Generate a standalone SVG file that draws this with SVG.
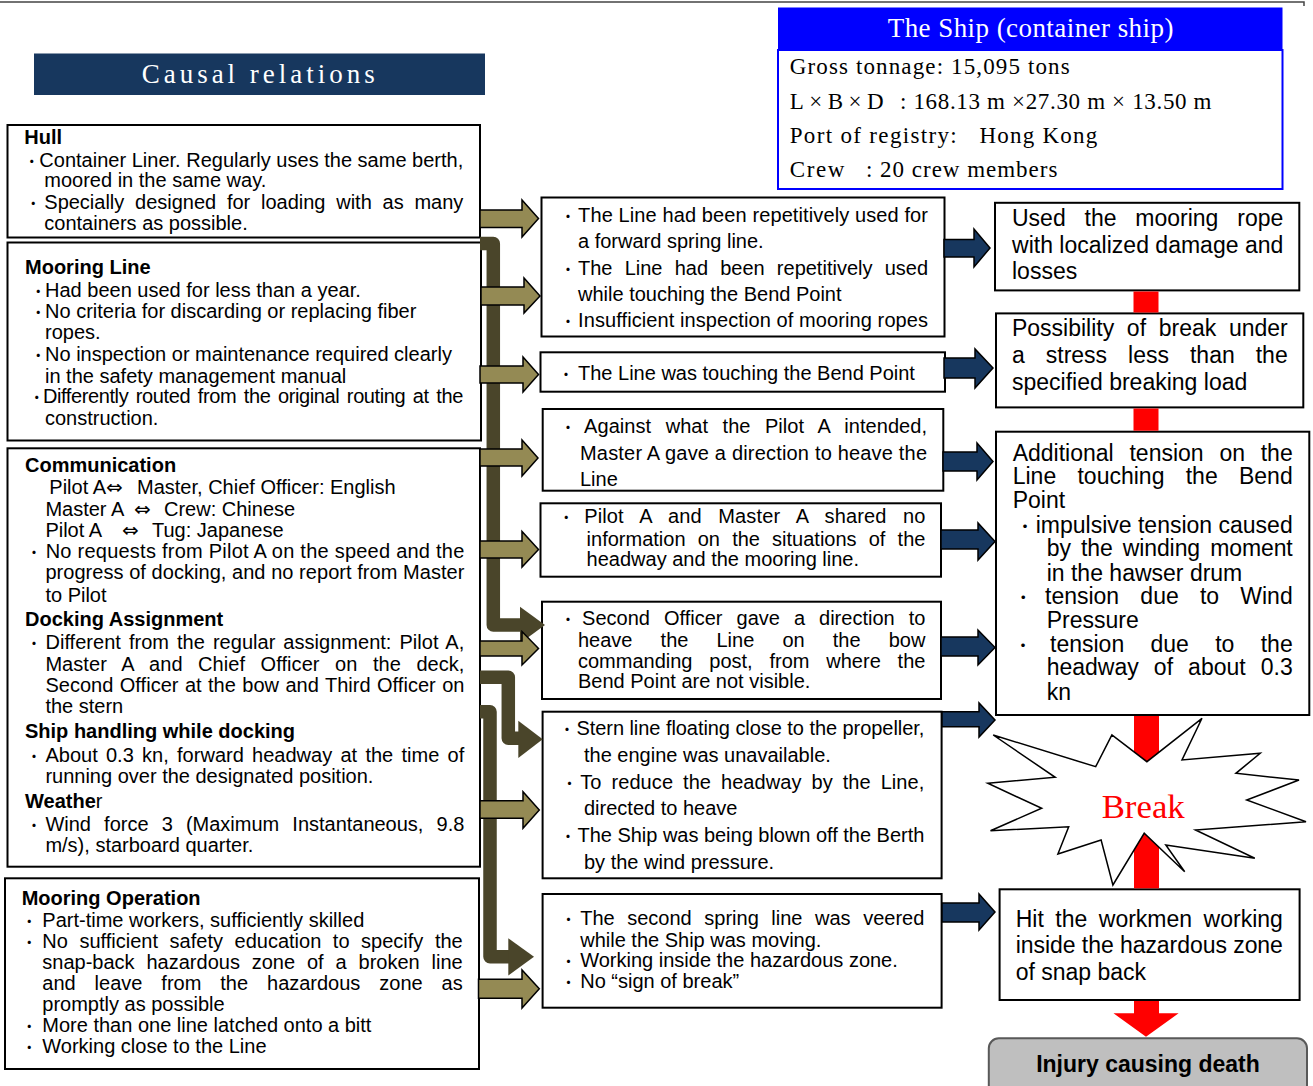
<svg xmlns="http://www.w3.org/2000/svg" width="1313" height="1086" viewBox="0 0 1313 1086">
<defs><style>
.t{font-family:"Liberation Sans",Arial,sans-serif;font-size:20px;fill:#000}
.h{font-weight:bold}
.n{font-weight:normal}
.rt{font-size:23px}
.bu{font-family:"Noto Sans CJK JP",sans-serif;font-size:15px}
.bu2{font-family:"Noto Sans CJK JP",sans-serif;font-size:17px}
.ar{font-family:"DejaVu Sans",sans-serif}
.sr{font-family:"Liberation Serif","Times New Roman",serif;fill:#000}
.box{fill:#fff;stroke:#000;stroke-width:2}
.ol{fill:#948A54;stroke:#000;stroke-width:1.5}
.nv{fill:#17375E;stroke:#000;stroke-width:1.5}
.br{fill:none;stroke:#4A452A;stroke-width:13.5;stroke-linejoin:round}
.brh{fill:#4A452A}
.red{fill:#FF0000}
</style></defs>
<rect width="1313" height="1086" fill="#fff"/>
<polyline points="0,2 1304,2 1304,6" fill="none" stroke="#444" stroke-width="1.5"/>

<g id="causal-relations-title">
<rect x="34" y="53.5" width="451" height="41.5" fill="#17375E"/>
<text class="sr" x="141.7" y="83.3" style="font-size:27px;fill:#fff" textLength="233" lengthAdjust="spacing">Causal relations</text>
</g>

<g id="ship-info">
<rect x="778" y="7.5" width="504.5" height="42.5" fill="#0000FF"/>
<rect x="778" y="50" width="504.5" height="139" fill="#fff" stroke="#0000FF" stroke-width="2"/>
<text class="sr" x="887.7" y="36.7" style="font-size:27px;fill:#fff" textLength="285.7" lengthAdjust="spacing">The Ship (container ship)</text>
<text class="sr" x="789.7" y="74" style="font-size:23px" textLength="280" lengthAdjust="spacing">Gross tonnage: 15,095 tons</text>
<text class="sr" x="789.7" y="109" style="font-size:23px" textLength="94" lengthAdjust="spacing">L×B×D</text>
<text class="sr" x="900" y="109" style="font-size:23px" textLength="311.5" lengthAdjust="spacing">: 168.13 m ×27.30 m × 13.50 m</text>
<text class="sr" x="789.7" y="143.3" style="font-size:23px" textLength="167" lengthAdjust="spacing">Port of registry:</text>
<text class="sr" x="979.5" y="143.3" style="font-size:23px" textLength="117.7" lengthAdjust="spacing">Hong Kong</text>
<text class="sr" x="789.7" y="176.7" style="font-size:23px" textLength="54.7" lengthAdjust="spacing">Crew</text>
<text class="sr" x="866" y="176.7" style="font-size:23px" textLength="191.4" lengthAdjust="spacing">: 20 crew members</text>
</g>

<g id="hull">
<rect class="box" x="7.5" y="125" width="472.5" height="112.5"/>
<text class="t h" x="24.3" y="144.3">Hull</text>
<text class="t" x="24.2" y="166.7" textLength="439.1" lengthAdjust="spacing"><tspan class="bu">・</tspan><tspan dx="0.1">Container Liner. Regularly uses the same berth,</tspan></text>
<text class="t" x="44.3" y="186.7">moored in the same way.</text>
<text class="t" x="25.8" y="209.3" textLength="437.5" lengthAdjust="spacing" style="word-spacing:5.2px"><tspan class="bu">・</tspan><tspan dx="3.5">Specially designed for loading with as many</tspan></text>
<text class="t" x="44.3" y="230">containers as possible.</text>
</g>

<g id="mooring-line">
<rect class="box" x="7.5" y="242.5" width="473.5" height="198"/>
<text class="t h" x="25" y="274.3">Mooring Line</text>
<text class="t" x="30.8" y="296.7"><tspan class="bu">・</tspan><tspan dx="-0.8">Had been used for less than a year.</tspan></text>
<text class="t" x="30.8" y="318.3"><tspan class="bu">・</tspan><tspan dx="-0.8">No criteria for discarding or replacing fiber</tspan></text>
<text class="t" x="45" y="339.3">ropes.</text>
<text class="t" x="30.8" y="361"><tspan class="bu">・</tspan><tspan dx="-0.8">No inspection or maintenance required clearly</tspan></text>
<text class="t" x="45" y="382.7">in the safety management manual</text>
<text class="t" x="29.2" y="403.3" textLength="434.1" lengthAdjust="spacing" style="word-spacing:2.4px"><tspan class="bu">・</tspan><tspan dx="-0.9">Differently routed from the original routing at the</tspan></text>
<text class="t" x="45" y="425">construction.</text>
</g>

<g id="communication">
<rect class="box" x="7.5" y="448.3" width="472.5" height="418.4"/>
<text class="t h" x="25" y="471.7">Communication</text>
<text class="t" y="494.3"><tspan x="49.3">Pilot A</tspan><tspan class="ar" x="106">⇔</tspan><tspan x="137">Master, Chief Officer: English</tspan></text>
<text class="t" y="516"><tspan x="45.4">Master A</tspan><tspan class="ar" x="134">⇔</tspan><tspan x="164">Crew: Chinese</tspan></text>
<text class="t" y="537.3"><tspan x="45.4">Pilot A</tspan><tspan class="ar" x="122">⇔</tspan><tspan x="152">Tug: Japanese</tspan></text>
<text class="t" x="26.5" y="558.3" textLength="437.8" lengthAdjust="spacing"><tspan class="bu">・</tspan><tspan dx="3.9">No requests from Pilot A on the speed and the</tspan></text>
<text class="t" x="45.4" y="579.3" textLength="419" lengthAdjust="spacing">progress of docking, and no report from Master</text>
<text class="t" x="45.4" y="601.7">to Pilot</text>
<text class="t h" x="25" y="626">Docking Assignment</text>
<text class="t" x="26.5" y="649.3" textLength="437.8" lengthAdjust="spacing" style="word-spacing:2.4px"><tspan class="bu">・</tspan><tspan dx="3.9">Different from the regular assignment: Pilot A,</tspan></text>
<text class="t" x="45.4" y="670.7" textLength="419" lengthAdjust="spacing" style="word-spacing:9.9px">Master A and Chief Officer on the deck,</text>
<text class="t" x="45.4" y="691.7" textLength="419" lengthAdjust="spacing" style="word-spacing:0.8px">Second Officer at the bow and Third Officer on</text>
<text class="t" x="45.4" y="713.3">the stern</text>
<text class="t h" x="25" y="738.3">Ship handling while docking</text>
<text class="t" x="26.5" y="761.7" textLength="437.8" lengthAdjust="spacing" style="word-spacing:2.7px"><tspan class="bu">・</tspan><tspan dx="3.9">About 0.3 kn, forward headway at the time of</tspan></text>
<text class="t" x="45.4" y="782.7">running over the designated position.</text>
<text class="t h" x="25" y="807.7">Weathe<tspan class="n">r</tspan></text>
<text class="t" x="26.5" y="830.7" textLength="437.8" lengthAdjust="spacing" style="word-spacing:7.6px"><tspan class="bu">・</tspan><tspan dx="3.9">Wind force 3 (Maximum Instantaneous, 9.8</tspan></text>
<text class="t" x="45.4" y="852.3">m/s), starboard quarter.</text>
</g>

<g id="mooring-operation">
<rect class="box" x="5" y="878.3" width="474" height="190.7"/>
<text class="t h" x="21.7" y="905">Mooring Operation</text>
<text class="t" x="21.8" y="926.7"><tspan class="bu">・</tspan><tspan dx="5.5">Part-time workers, sufficiently skilled</tspan></text>
<text class="t" x="21.8" y="948.3" textLength="440.9" lengthAdjust="spacing" style="word-spacing:6px"><tspan class="bu">・</tspan><tspan dx="5.5">No sufficient safety education to specify the</tspan></text>
<text class="t" x="42.3" y="969.3" textLength="420.4" lengthAdjust="spacing" style="word-spacing:6.3px">snap-back hazardous zone of a broken line</text>
<text class="t" x="42.3" y="990" textLength="420.4" lengthAdjust="spacing" style="word-spacing:13.4px">and leave from the hazardous zone as</text>
<text class="t" x="42.3" y="1010.7">promptly as possible</text>
<text class="t" x="21.8" y="1031.7"><tspan class="bu">・</tspan><tspan dx="5.5">More than one line latched onto a bitt</tspan></text>
<text class="t" x="21.8" y="1053.3"><tspan class="bu">・</tspan><tspan dx="5.5">Working close to the Line</tspan></text>
</g>

<g id="repeated-use">
<rect class="box" x="541.5" y="197.5" width="403" height="139"/>
<text class="t" x="560.5" y="222.3" textLength="367.5" lengthAdjust="spacing"><tspan class="bu">・</tspan><tspan dx="2.5">The Line had been repetitively used for</tspan></text>
<text class="t" x="578" y="248.3">a forward spring line.</text>
<text class="t" x="560.5" y="275" textLength="367.5" lengthAdjust="spacing" style="word-spacing:6.6px"><tspan class="bu">・</tspan><tspan dx="2.5">The Line had been repetitively used</tspan></text>
<text class="t" x="578" y="301">while touching the Bend Point</text>
<text class="t" x="560.5" y="326.7" textLength="367.5" lengthAdjust="spacing"><tspan class="bu">・</tspan><tspan dx="2.5">Insufficient inspection of mooring ropes</tspan></text>
</g>

<g id="touching-bend">
<rect class="box" x="540.5" y="352.3" width="404.5" height="39.4"/>
<text class="t" x="558.5" y="380"><tspan class="bu">・</tspan><tspan dx="4.5">The Line was touching the Bend Point</tspan></text>
</g>

<g id="master-direction">
<rect class="box" x="542.7" y="409" width="400.6" height="81.7"/>
<text class="t" x="560.5" y="432.7" textLength="366.5" lengthAdjust="spacing" style="word-spacing:8.8px"><tspan class="bu">・</tspan><tspan dx="8.5">Against what the Pilot A intended,</tspan></text>
<text class="t" x="580" y="460" textLength="347" lengthAdjust="spacing">Master A gave a direction to heave the</text>
<text class="t" x="580" y="486">Line</text>
</g>

<g id="no-information">
<rect class="box" x="540.5" y="503.3" width="400.5" height="73.4"/>
<text class="t" x="558.8" y="523.3" textLength="366.6" lengthAdjust="spacing" style="word-spacing:10.8px"><tspan class="bu">・</tspan><tspan dx="10.2">Pilot A and Master A shared no</tspan></text>
<text class="t" x="586.6" y="545.7" textLength="338.8" lengthAdjust="spacing" style="word-spacing:6.6px">information on the situations of the</text>
<text class="t" x="586.6" y="565.7">headway and the mooring line.</text>
</g>

<g id="second-officer">
<rect class="box" x="542" y="601.7" width="399" height="97.3"/>
<text class="t" x="560.5" y="625" textLength="364.9" lengthAdjust="spacing" style="word-spacing:8.4px"><tspan class="bu">・</tspan><tspan dx="6.5">Second Officer gave a direction to</tspan></text>
<text class="t" x="578" y="647.3" textLength="347.4" lengthAdjust="spacing" style="word-spacing:22.6px">heave the Line on the bow</text>
<text class="t" x="578" y="668.3" textLength="347.4" lengthAdjust="spacing" style="word-spacing:11.3px">commanding post, from where the</text>
<text class="t" x="578" y="688.3">Bend Point are not visible.</text>
</g>

<g id="stern-line">
<rect class="box" x="542.6" y="711.7" width="399" height="166.6"/>
<text class="t" x="559.5" y="735" textLength="364.8" lengthAdjust="spacing"><tspan class="bu">・</tspan><tspan dx="2">Stern line floating close to the propeller,</tspan></text>
<text class="t" x="584" y="761.7">the engine was unavailable.</text>
<text class="t" x="562" y="789" textLength="362.3" lengthAdjust="spacing" style="word-spacing:4.3px"><tspan class="bu">・</tspan><tspan dx="3.2">To reduce the headway by the Line,</tspan></text>
<text class="t" x="584" y="815">directed to heave</text>
<text class="t" x="560.5" y="842.3" textLength="363.8" lengthAdjust="spacing"><tspan class="bu">・</tspan><tspan dx="2">The Ship was being blown off the Berth</tspan></text>
<text class="t" x="584" y="869">by the wind pressure.</text>
</g>

<g id="second-spring">
<rect class="box" x="542.6" y="894" width="399" height="113.7"/>
<text class="t" x="560.9" y="925" textLength="363.4" lengthAdjust="spacing" style="word-spacing:7px"><tspan class="bu">・</tspan><tspan dx="4.3">The second spring line was veered</tspan></text>
<text class="t" x="580.2" y="946.7">while the Ship was moving.</text>
<text class="t" x="560.9" y="967.3"><tspan class="bu">・</tspan><tspan dx="4.3">Working inside the hazardous zone.</tspan></text>
<text class="t" x="560.9" y="988.3"><tspan class="bu">・</tspan><tspan dx="4.3">No “sign of break”</tspan></text>
</g>

<g id="damaged-rope">
<rect class="box" x="995" y="202.8" width="304.3" height="87.6"/>
<text class="t rt" x="1012" y="225.5" textLength="271.3" lengthAdjust="spacing" style="word-spacing:12.5px">Used the mooring rope</text>
<text class="t rt" x="1012" y="252.5" textLength="271.3" lengthAdjust="spacing">with localized damage and</text>
<text class="t rt" x="1012" y="278.6">losses</text>
</g>

<g id="break-possibility">
<rect class="box" x="996" y="313.4" width="307.3" height="94"/>
<text class="t rt" x="1012" y="336" textLength="275.7" lengthAdjust="spacing" style="word-spacing:6.3px">Possibility of break under</text>
<text class="t rt" x="1012" y="363" textLength="275.7" lengthAdjust="spacing" style="word-spacing:14.6px">a stress less than the</text>
<text class="t rt" x="1012" y="390">specified breaking load</text>
</g>

<g id="additional-tension">
<rect class="box" x="996" y="431.7" width="313.3" height="283.3"/>
<text class="t rt" x="1012.7" y="460.5" textLength="280" lengthAdjust="spacing" style="word-spacing:9.4px">Additional tension on the</text>
<text class="t rt" x="1012.7" y="484.1" textLength="280" lengthAdjust="spacing" style="word-spacing:14.9px">Line touching the Bend</text>
<text class="t rt" x="1012.7" y="507.8">Point</text>
<text class="t rt" x="1016.5" y="532.5" textLength="276.2" lengthAdjust="spacing"><tspan class="bu2">・</tspan><tspan dx="2.2">impulsive tension caused</tspan></text>
<text class="t rt" x="1046.7" y="556.1" textLength="246" lengthAdjust="spacing" style="word-spacing:3.9px">by the winding moment</text>
<text class="t rt" x="1046.7" y="580.5">in the hawser drum</text>
<text class="t rt" x="1014.8" y="604.1" textLength="277.9" lengthAdjust="spacing" style="word-spacing:14.8px"><tspan class="bu2">・</tspan><tspan dx="13.2">tension due to Wind</tspan></text>
<text class="t rt" x="1046.7" y="627.8">Pressure</text>
<text class="t rt" x="1014.5" y="651.5" textLength="278.2" lengthAdjust="spacing" style="word-spacing:19.9px"><tspan class="bu2">・</tspan><tspan dx="18.5">tension due to the</tspan></text>
<text class="t rt" x="1046.7" y="675.3" textLength="246" lengthAdjust="spacing" style="word-spacing:8.7px">headway of about 0.3</text>
<text class="t rt" x="1046.7" y="699.5">kn</text>
</g>

<g id="hit-workmen">
<rect class="box" x="999.6" y="889.3" width="300" height="110.7"/>
<text class="t rt" x="1015.7" y="926.7" textLength="267.2" lengthAdjust="spacing" style="word-spacing:5.1px">Hit the workmen working</text>
<text class="t rt" x="1015.7" y="953.3" textLength="267.2" lengthAdjust="spacing">inside the hazardous zone</text>
<text class="t rt" x="1015.7" y="980">of snap back</text>
</g>

<g id="injury">
<rect x="988.8" y="1038.3" width="318.2" height="60" rx="10" fill="#BFBFBF" stroke="#595959" stroke-width="2"/>
<text class="t h" x="1148" y="1071.7" style="font-size:23px" text-anchor="middle">Injury causing death</text>
</g>

<g id="connectors">
<path class="br" d="M480,243.5 H493.3 V625 H521"/>
<polygon class="brh" points="520,606.7 545,625 520,643.3"/>
<path class="br" d="M480,677.3 H508.3 V738.3 H519"/>
<polygon class="brh" points="518.3,720.7 542.7,739.3 518.3,758"/>
<path class="br" d="M480,711.7 H490 V956.7 H509"/>
<polygon class="brh" points="508.3,938.3 534,956.7 508.3,975.5"/>

<polygon class="ol" points="480,210 522,210 522,200 538.5,218.5 522,237 522,227.5 480,227.5"/>
<polygon class="ol" points="481,287 524,287 524,278 540,296 524,313 524,305 481,305"/>
<polygon class="ol" points="480,366 523,366 523,357 538.5,374.5 523,392 523,383 480,383"/>
<polygon class="ol" points="480,449 522,449 522,440 538,458 522,476 522,466 480,466"/>
<polygon class="ol" points="480,541 522,541 522,531.5 538.5,549.5 522,567 522,558 480,558"/>
<polygon class="ol" points="480,641 522,641 522,631.5 538.5,648.5 522,665 522,656 480,656"/>
<polygon class="ol" points="480,800.7 523,800.7 523,791.7 539.3,810 523,828.3 523,818.3 480,818.3"/>
<polygon class="ol" points="478.5,979.3 522,979.3 522,970 539.3,988.8 522,1008 522,998.3 478.5,998.3"/>

<polygon class="nv" points="944,239.5 974,239.5 974,229 990,248 974,267 974,257 944,257"/>
<polygon class="nv" points="944,358 975,358 975,349 993,368 975,388 975,378 944,378"/>
<polygon class="nv" points="943,452 977,452 977,443 993,461.5 977,480 977,471 943,471"/>
<polygon class="nv" points="941,530 978,530 978,523 995,541.5 978,560 978,549 941,549"/>
<polygon class="nv" points="941,637 978,637 978,630 995,647.5 978,665 978,656 941,656"/>
<polygon class="nv" points="942,711.7 979,711.7 979,703 995,720 979,737 979,726.7 942,726.7"/>
<polygon class="nv" points="942,903 979,903 979,894 995,912 979,930 979,922 942,922"/>

<rect class="red" x="1133.5" y="291.5" width="25" height="21"/>
<rect class="red" x="1133.5" y="408.5" width="25" height="22.2"/>
<rect class="red" x="1134" y="716" width="25" height="172.3"/>
<polygon class="red" points="1134,1001 1159,1001 1159,1013.3 1178.6,1013.3 1146,1036.7 1113.5,1013.3 1134,1013.3"/>
</g>

<g id="break">
<polygon points="993.2,735 1095.7,766.7 1111.9,735 1146.9,761.7 1202,718.3 1182,760 1260.2,753.3 1235.9,773.3 1299,780 1246.7,800 1306,821.7 1195.5,830 1254.8,858.3 1165.8,845 1184.7,871.7 1144.2,833.3 1112.9,885 1101.1,840 1057.9,854 1068.7,826.7 990.5,830.7 1041.7,808.3 987.8,783.3 1055.2,777.3" fill="#fff" stroke="#000" stroke-width="1.5"/>
<text class="sr" x="1101.7" y="818.3" style="font-size:33px;fill:#FF0000" textLength="83" lengthAdjust="spacingAndGlyphs">Break</text>
</g>
</svg>
